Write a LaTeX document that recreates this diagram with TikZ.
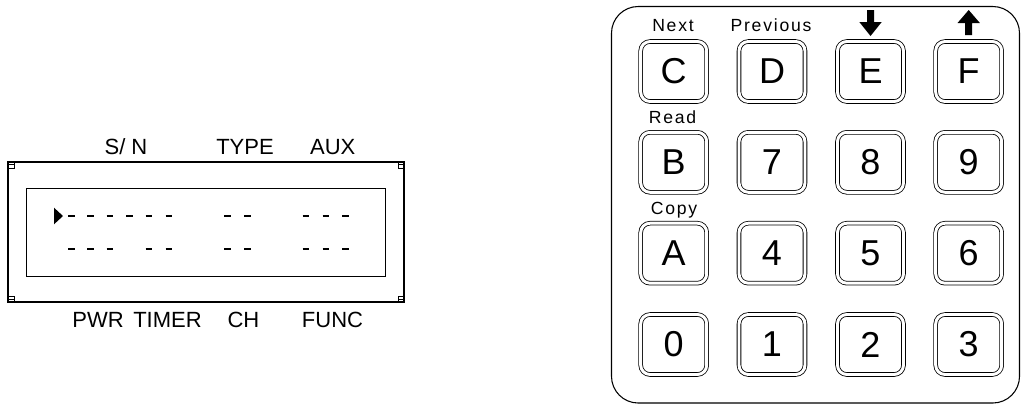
\documentclass[tikz,border=0pt]{standalone}
\usepackage{fontspec}
\setmainfont{Liberation Sans}
\newfontfamily\spacedfont[LetterSpace=10]{Liberation Sans}

\tikzset{
  keybtn/.style={draw, line width=0.6pt, double=white, double distance=2.2pt, rounded corners=7pt,
    minimum width=49.5pt, minimum height=45pt, inner sep=0pt, font=\fontsize{27}{32}\selectfont},
  keylbl/.style={anchor=base, inner sep=0pt, font=\spacedfont\fontsize{13.2}{16}\selectfont},
  lcdlbl/.style={anchor=base, inner sep=0pt, font=\fontsize{16.5}{20}\selectfont},
  seg/.style={line width=1.5pt}
}

\begin{document}
\begin{tikzpicture}[x=0.75pt,y=0.75pt,yscale=-1,xscale=1]
\useasboundingbox (0,0) rectangle (1022,405);

%Shape: Rectangle [LCD frame]
\draw [line width=1pt] (8,162) rectangle (404,302) ;
%Shape: Rectangle [LCD window]
\draw [line width=0.7pt] (26,188.3) rectangle (385.7,276) ;
%Shape: corner marks
\draw [line width=0.5pt] (8,161) rectangle (14,168) (8,164.5) -- (14,164.5) ;
\draw [line width=0.5pt] (398,161) rectangle (404,168) (398,164.5) -- (404,164.5) ;
\draw [line width=0.5pt] (8,296) rectangle (14,302) (8,299) -- (14,299) ;
\draw [line width=0.5pt] (398,296) rectangle (404,302) (398,299) -- (404,299) ;

%Shape: Triangle [cursor]
\fill (54,207.7) -- (63,216) -- (54,224.3) -- cycle ;
%Shape: segments, first line
\draw [seg] (68.3,216) -- ++(6.7,0) (87.3,216) -- ++(6.7,0) (106.7,216) -- ++(6.7,0)
  (126,216) -- ++(6.7,0) (145.7,216) -- ++(6.7,0) (165.7,216) -- ++(6.7,0) ;
\draw [seg] (224.3,216) -- ++(6.7,0) (244,216) -- ++(6.7,0) ;
\draw [seg] (302.7,216) -- ++(6.7,0) (322.7,216) -- ++(6.7,0) (342.3,216) -- ++(6.7,0) ;
%Shape: segments, second line
\draw [seg] (68.3,249) -- ++(6.7,0) (87.3,249) -- ++(6.7,0) (106.7,249) -- ++(6.7,0)
  (145.7,249) -- ++(6.7,0) (165.7,249) -- ++(6.7,0) ;
\draw [seg] (224.3,249) -- ++(6.7,0) (244,249) -- ++(6.7,0) ;
\draw [seg] (302.7,249) -- ++(6.7,0) (322.7,249) -- ++(6.7,0) (342.3,249) -- ++(6.7,0) ;

% Text Node
\node [lcdlbl] (sn) at (126,154) {S/ N};
% Text Node
\node [lcdlbl] (type) at (245,154) {TYPE};
% Text Node
\node [lcdlbl] (aux) at (332.7,154) {AUX};
% Text Node
\node [lcdlbl] (pwr) at (98,327.3) {PWR};
% Text Node
\node [lcdlbl] (timer) at (167.5,327.3) {TIMER};
% Text Node
\node [lcdlbl] (ch) at (243.5,327.3) {CH};
% Text Node
\node [lcdlbl] (func) at (332.5,327.3) {FUNC};

%Rounded Rect [keypad]
\draw [line width=0.8pt, rounded corners=20pt] (611.5,6.5) rectangle (1019.5,403) ;

% Keys
\node [keybtn] (kC) at (673.7,71.5) {C};
\node [keybtn] (kD) at (772,71.5) {D};
\node [keybtn] (kE) at (870.5,71.5) {E};
\node [keybtn] (kF) at (968.7,71.5) {F};
\node [keybtn] (kB) at (673.7,162.3) {B};
\node [keybtn] (k7) at (772,162.3) {7};
\node [keybtn] (k8) at (870.5,162.3) {8};
\node [keybtn] (k9) at (968.7,162.3) {9};
\node [keybtn] (kA) at (673.7,253.2) {A};
\node [keybtn] (k4) at (772,253.2) {4};
\node [keybtn] (k5) at (870.5,253.2) {5};
\node [keybtn] (k6) at (968.7,253.2) {6};
\node [keybtn] (k0) at (673.7,344.5) {0};
\node [keybtn] (k1) at (772,344.5) {1};
\node [keybtn] (k2) at (870.5,344.5) {2};
\node [keybtn] (k3) at (968.7,344.5) {3};

% Text Node
\node [keylbl] (next) at (673,31.7) {Next};
% Text Node
\node [keylbl] (prev) at (771,31.7) {Previous};
% Text Node
\node [keylbl] (read) at (672.5,123.5) {Read};
% Text Node
\node [keylbl] (copy) at (674,214.5) {Copy};

%Shape: Arrow [down]
\fill (867,10) -- (874,10) -- (874,22) -- (881.7,22) -- (870.5,36) -- (859.3,22) -- (867,22) -- cycle ;
%Shape: Arrow [up]
\fill (968.7,10) -- (979.9,23) -- (972.2,23) -- (972.2,35) -- (965.2,35) -- (965.2,23) -- (957.5,23) -- cycle ;

\end{tikzpicture}
\end{document}
